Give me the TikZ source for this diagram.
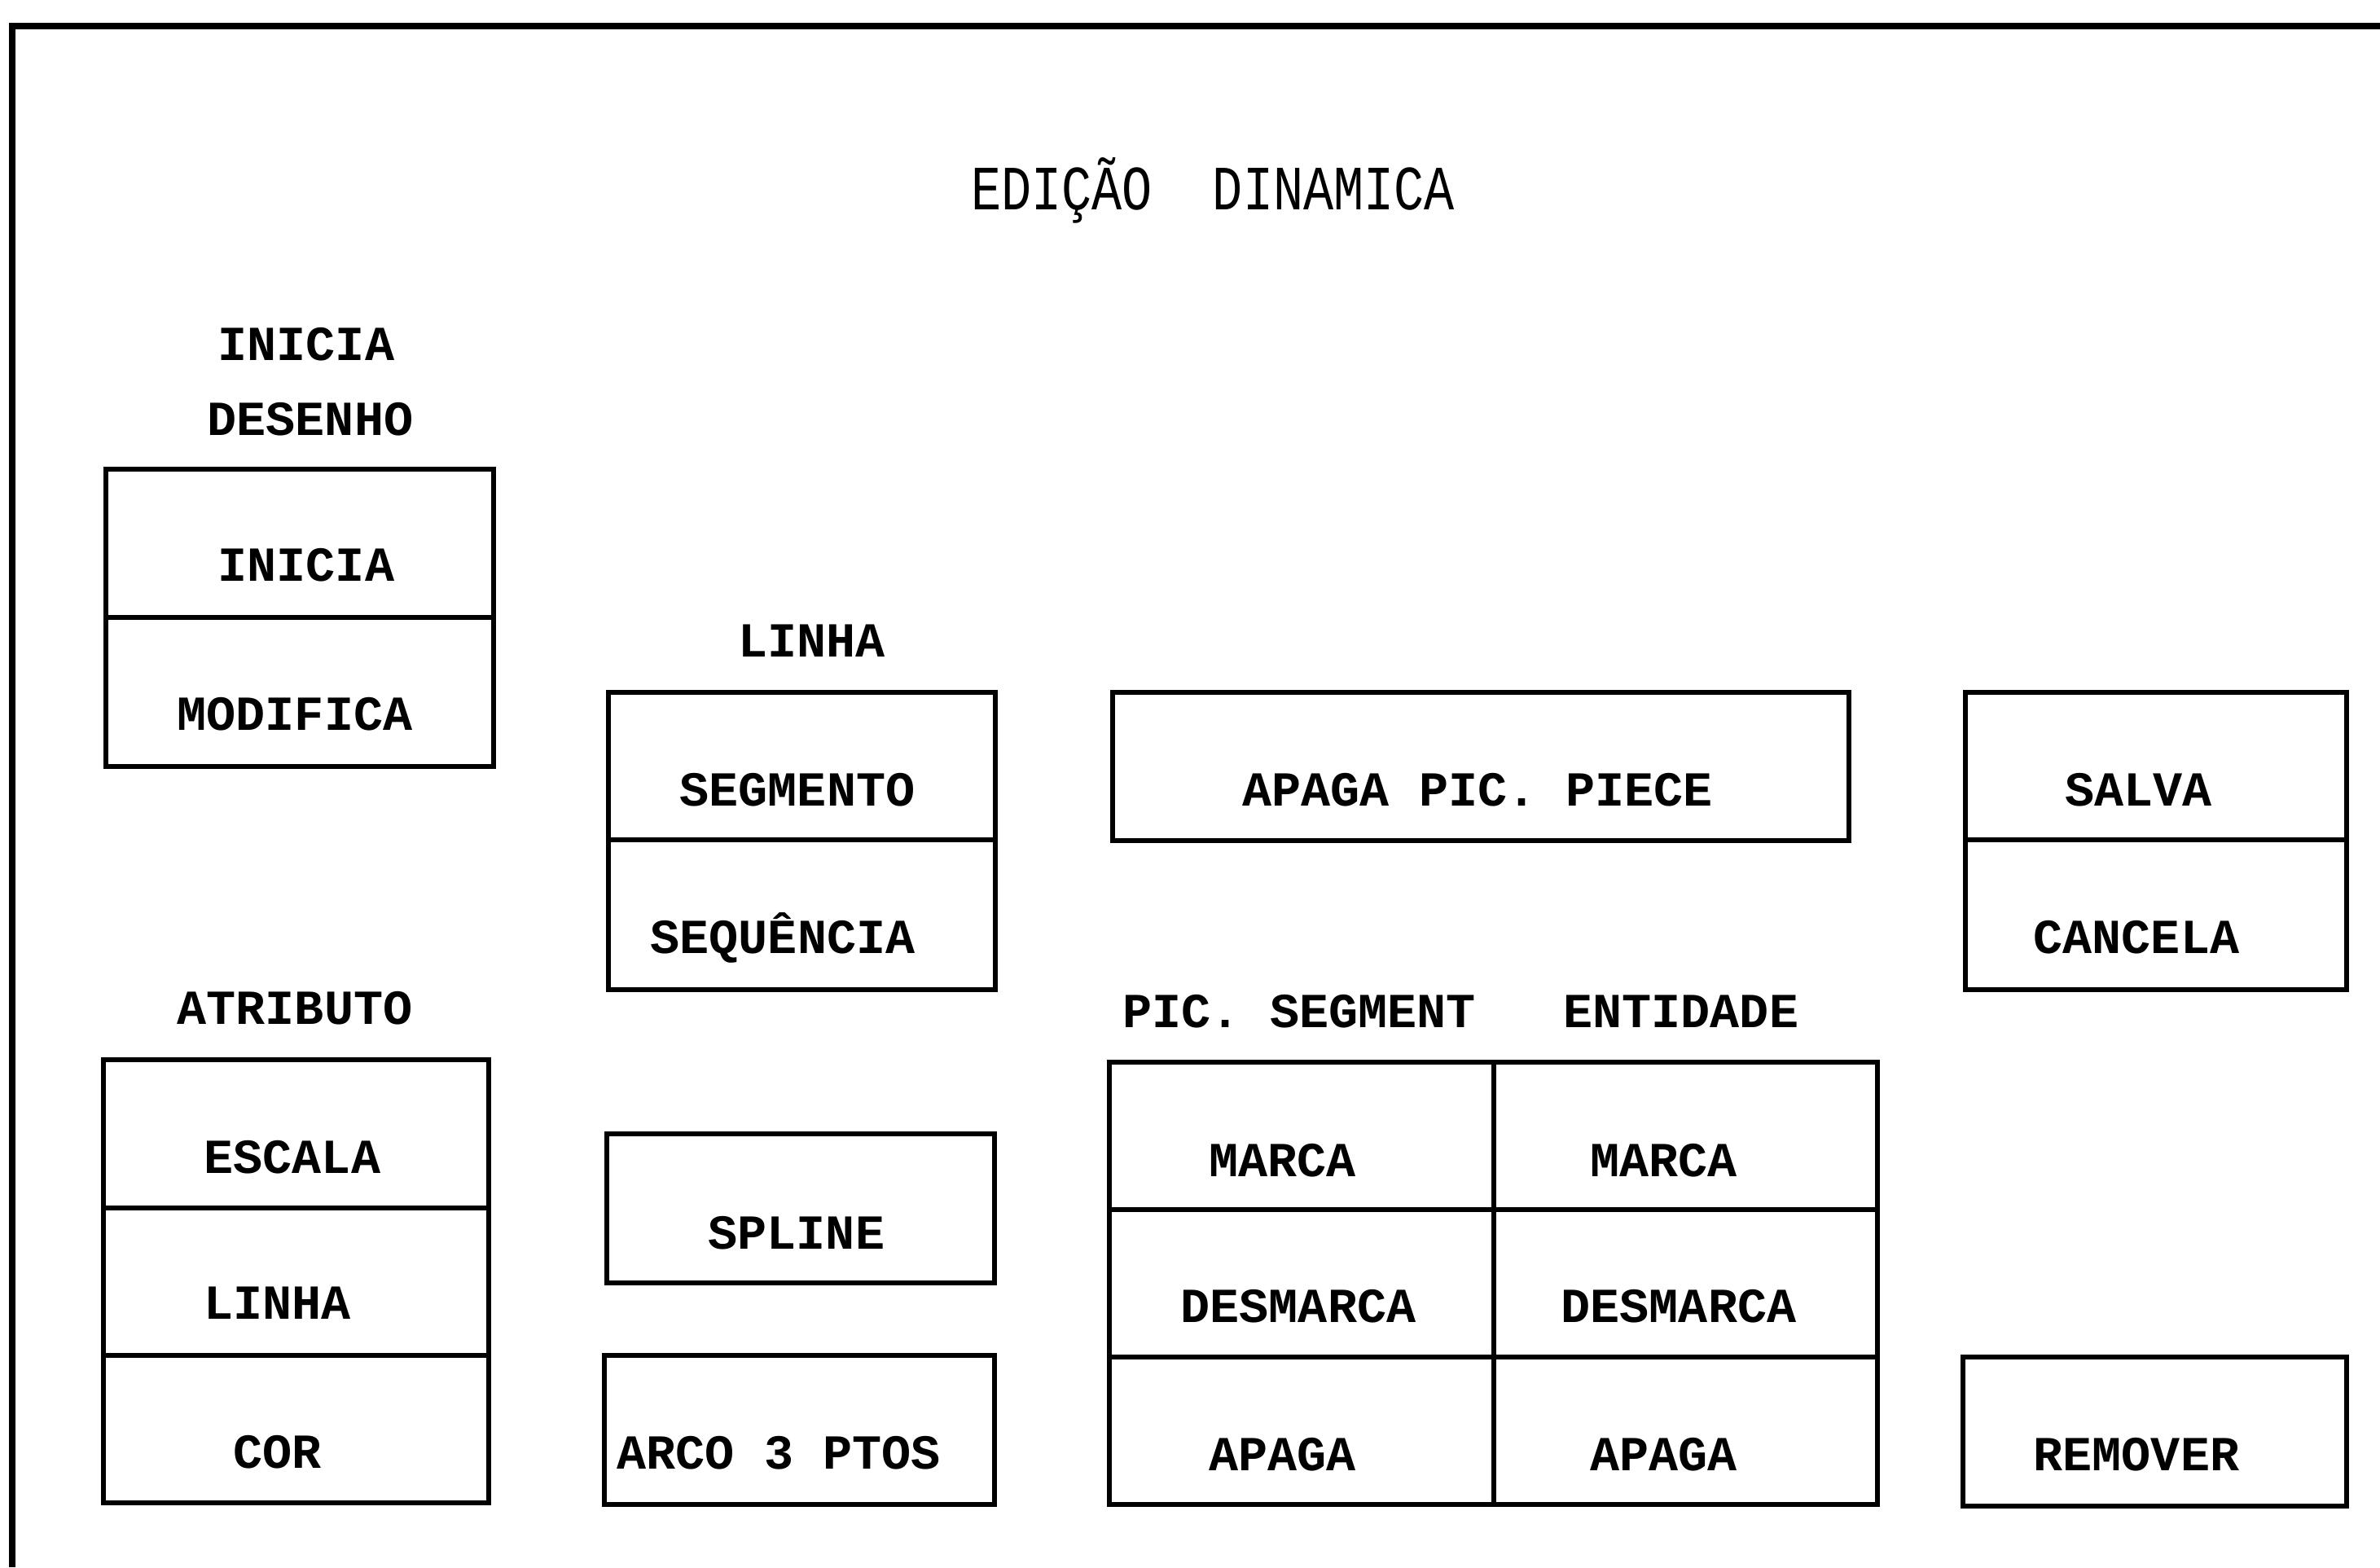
\documentclass[tikz,border=0pt]{standalone}
\usepackage{fontspec}
\usepackage{graphicx}
\newfontfamily\plotfont{Liberation Mono}
\usetikzlibrary{positioning}
\tikzset{
  % Sheet frame
  sheet/.style={
    draw=black,
    line width=2pt
  },
  % Menu box outline
  menubox/.style={
    draw=black,
    line width=1.6pt
  },
  % Text of a menu entry
  item/.style={
    anchor=base west,
    inner sep=0pt,
    font=\plotfont\bfseries\fontsize{17.1}{20}\selectfont\frenchspacing
  },
  % Heading above a group of entries
  head/.style={
    item
  },
  % Title of the screen
  title/.style={
    anchor=base,
    inner sep=0pt,
    font=\plotfont\fontsize{17.6}{20}\selectfont\frenchspacing
  }
}

\begin{document}
\begin{tikzpicture}
  \useasboundingbox (0,0) rectangle (29.22,19.24);

  % Frame
  \draw[sheet] (0.15,0) -- (0.15,18.92) -- (29.22,18.92);

  % Title
  \node[title] (titulo) at (14.89,16.66) {\scalebox{1}[1.25]{EDIÇÃO\ \ DINAMICA}};

  % Inicia desenho
  \node[head] (hini1) at (2.67,14.81) {INICIA};
  \node[head] (hini2) at (2.54,13.90) {DESENHO};
  \draw[menubox] (1.30,9.83) rectangle (6.06,13.48);
  \draw[menubox] (1.30,11.66) -- (6.06,11.66);
  \node[item] (inicia) at (2.67,12.11) {INICIA};
  \node[item] (modifica) at (2.17,10.28) {MODIFICA};

  % Linha
  \node[head] (hlinha) at (9.06,11.18) {LINHA};
  \draw[menubox] (7.47,7.09) rectangle (12.22,10.74);
  \draw[menubox] (7.47,8.93) -- (12.22,8.93);
  \node[item] (segmento) at (8.34,9.35) {SEGMENTO};
  \node[item] (sequencia) at (7.98,7.54) {SEQUÊNCIA};

  % Apaga pic. piece
  \draw[menubox] (13.66,8.92) rectangle (22.70,10.74);
  \node[item] (apagapiece) at (15.25,9.35) {APAGA PIC. PIECE};

  % Salva / cancela
  \draw[menubox] (24.13,7.09) rectangle (28.81,10.74);
  \draw[menubox] (24.13,8.93) -- (28.81,8.93);
  \node[item] (salva) at (25.35,9.35) {SALVA};
  \node[item] (cancela) at (24.96,7.54) {CANCELA};

  % Atributo
  \node[head] (hatrib) at (2.17,6.67) {ATRIBUTO};
  \draw[menubox] (1.27,0.79) rectangle (6.00,6.23);
  \draw[menubox] (1.27,4.41) -- (6.00,4.41);
  \draw[menubox] (1.27,2.60) -- (6.00,2.60);
  \node[item] (escala) at (2.50,4.84) {ESCALA};
  \node[item] (alinha) at (2.50,3.05) {LINHA};
  \node[item] (cor) at (2.86,1.22) {COR};

  % Spline and arco
  \draw[menubox] (7.45,3.49) rectangle (12.21,5.32);
  \node[item] (spline) at (8.69,3.91) {SPLINE};
  \draw[menubox] (7.42,0.77) rectangle (12.21,2.60);
  \node[item] (arco) at (7.57,1.21) {ARCO 3 PTOS};

  % Pic. segment / entidade
  \node[head] (hgrid) at (13.78,6.63) {PIC. SEGMENT\ \ \ ENTIDADE};
  \draw[menubox] (13.62,0.77) rectangle (23.05,6.20);
  \draw[menubox] (18.34,0.77) -- (18.34,6.20);
  \draw[menubox] (13.62,4.39) -- (23.05,4.39);
  \draw[menubox] (13.62,2.58) -- (23.05,2.58);
  \node[item] (marcaseg) at (14.84,4.80) {MARCA};
  \node[item] (marcaent) at (19.52,4.80) {MARCA};
  \node[item] (desmseg) at (14.49,3.01) {DESMARCA};
  \node[item] (desment) at (19.16,3.01) {DESMARCA};
  \node[item] (apagaseg) at (14.84,1.19) {APAGA};
  \node[item] (apagaent) at (19.52,1.19) {APAGA};

  % Remover
  \draw[menubox] (24.10,0.75) rectangle (28.81,2.58);
  \node[item] (remover) at (24.96,1.19) {REMOVER};
\end{tikzpicture}
\end{document}
